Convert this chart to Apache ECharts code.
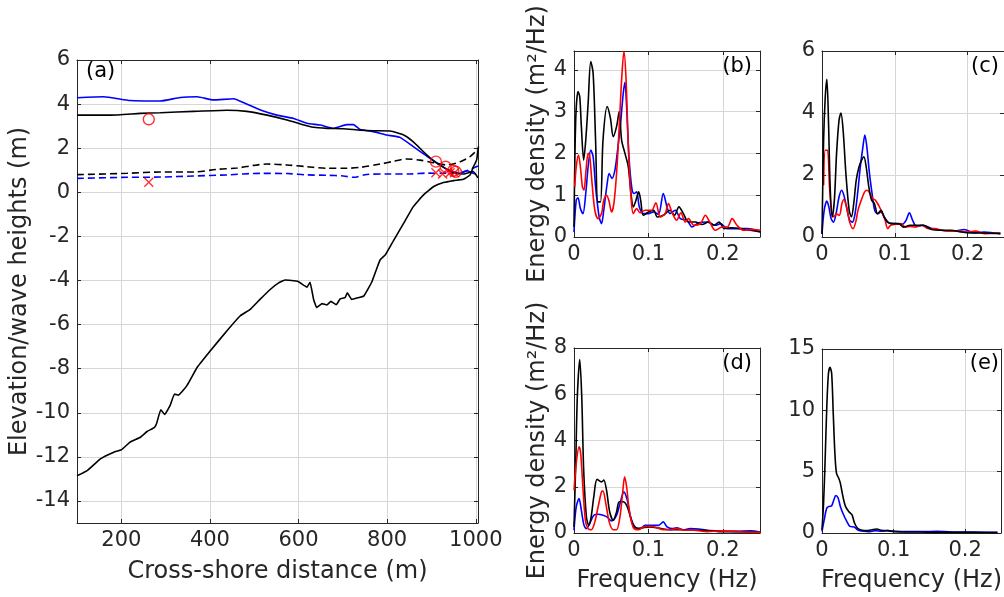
<!DOCTYPE html>
<html>
<head>
<meta charset="utf-8">
<script src="https://cdn.jsdelivr.net/npm/echarts@6/dist/echarts.min.js"></script>
<style>html,body{margin:0;padding:0;background:#fff}#c{width:1004px;height:597px}</style>
</head>
<body>
<div id="c"></div>
<script>
// ---------- Panel (a): cross-shore profile ----------
const xTicksA = [200, 400, 600, 800, 1000];
const yTicksA = [-14, -12, -10, -8, -6, -4, -2, 0, 2, 4, 6];
const hmaxBlue = [[100,4.29],[160,4.33],[220,4.16],[288,4.14],[333,4.30],[371,4.33],[408,4.19],[453,4.24],[483,4.0],[514,3.73],[551,3.5],[589,3.35],[619,3.13],[649,3.05],[679,2.9],[709,3.07],[724,3.07],[739,2.85],[769,2.75],[799,2.6],[829,2.49],[859,2.07],[889,1.65],[919,1.24],[942,0.98],[965,0.86],[980,0.98],[991,0.89],[1000,0.83]];
const hmaxBlack = [[100,3.5],[175,3.5],[243,3.58],[288,3.61],[363,3.67],[438,3.72],[483,3.67],[529,3.5],[574,3.28],[604,3.1],[634,2.95],[664,2.9],[701,2.88],[739,2.82],[769,2.79],[807,2.78],[837,2.6],[859,2.29],[882,1.84],[905,1.42],[927,1.13],[950,0.89],[972,0.83],[994,0.94],[1005,0.65]];
const hsBlack = [[100,0.8],[213,0.86],[288,0.92],[363,0.92],[416,1.04],[461,1.1],[499,1.22],[529,1.28],[574,1.24],[619,1.16],[664,1.09],[709,1.09],[739,1.13],[784,1.28],[814,1.4],[844,1.51],[874,1.46],[905,1.34],[935,1.24],[965,1.39],[987,1.62],[1005,1.95]];
const hsBlue = [[100,0.63],[213,0.68],[288,0.69],[363,0.74],[438,0.79],[514,0.86],[574,0.85],[619,0.79],[664,0.77],[701,0.74],[724,0.68],[754,0.81],[799,0.83],[852,0.83],[889,0.87],[927,0.86],[965,0.89],[1005,1.19]];
const bedLevel = [[100,-12.86],[123,-12.62],[153,-12.09],[183,-11.79],[200,-11.68],[220,-11.33],[243,-11.11],[258,-10.85],[275,-10.66],[280,-10.46],[289,-9.86],[298,-10.08],[310,-9.68],[320,-9.15],[329,-9.2],[348,-8.77],[371,-7.95],[401,-7.19],[438,-6.29],[468,-5.61],[491,-5.31],[513,-4.86],[536,-4.41],[555,-4.11],[570,-3.98],[598,-4.03],[619,-4.3],[626,-4.08],[634,-4.86],[641,-5.23],[653,-5.05],[664,-5.11],[673,-4.95],[685,-5.1],[694,-4.83],[705,-4.78],[710,-4.56],[720,-4.86],[735,-4.78],[747,-4.71],[765,-4.08],[777,-3.43],[784,-3.07],[796,-2.83],[814,-2.2],[837,-1.41],[859,-0.65],[882,-0.12],[905,0.26],[927,0.44],[950,0.53],[972,0.59],[987,0.78],[994,1.13],[1002,1.47],[1006,2.07]];
const obsHmax = [[262,3.31],[910,1.39],[932,1.16],[949,0.98],[955,0.93]];
const obsHs = [[262,0.45],[910,0.89],[925,0.83],[942,0.89],[952,0.89]];

// ---------- Spectra (b)-(e) ----------
const specB_black = [[0,0.24],[0.0023,2.8],[0.0054,3.48],[0.0077,3.36],[0.0099,2.64],[0.013,1.84],[0.0158,2.32],[0.019,3.2],[0.0225,4.2],[0.0257,3.92],[0.029,2.32],[0.032,0.84],[0.0356,0.84],[0.039,2.32],[0.0446,3.12],[0.049,2.84],[0.0527,2.4],[0.0572,2.64],[0.0608,3.0],[0.064,2.32],[0.0685,2.0],[0.073,1.68],[0.0766,1.04],[0.0797,0.72],[0.0833,0.88],[0.087,1.08],[0.0896,0.88],[0.0932,0.52],[0.1,0.6],[0.107,0.64],[0.112,0.48],[0.12,0.52],[0.129,0.64],[0.135,0.52],[0.141,0.72],[0.147,0.56],[0.154,0.36],[0.163,0.36],[0.172,0.3],[0.181,0.36],[0.188,0.28],[0.195,0.36],[0.202,0.2],[0.21,0.22],[0.224,0.2],[0.237,0.16],[0.251,0.12]];
const specB_blue = [[0,0.12],[0.003,0.88],[0.0054,0.94],[0.0086,0.68],[0.012,0.56],[0.0158,1.04],[0.019,1.68],[0.0225,2.08],[0.0257,1.92],[0.029,1.2],[0.0338,0.48],[0.037,0.32],[0.04,0.64],[0.0446,1.28],[0.0473,1.52],[0.051,1.4],[0.055,1.6],[0.0586,2.08],[0.0626,2.72],[0.0662,3.44],[0.0685,3.7],[0.0707,3.12],[0.0739,1.92],[0.0775,1.2],[0.0806,1.04],[0.0842,1.08],[0.0878,0.72],[0.0932,0.56],[0.1,0.56],[0.107,0.6],[0.1135,0.54],[0.12,1.04],[0.125,0.72],[0.129,0.56],[0.136,0.64],[0.143,0.44],[0.152,0.4],[0.1585,0.24],[0.1676,0.34],[0.179,0.36],[0.19,0.28],[0.197,0.32],[0.206,0.2],[0.219,0.2],[0.233,0.2],[0.251,0.12]];
const specB_red = [[0.001,1.2],[0.003,1.68],[0.006,1.96],[0.0086,1.68],[0.0113,1.2],[0.0135,1.12],[0.0158,1.52],[0.019,2.0],[0.021,1.96],[0.0243,1.28],[0.028,0.64],[0.0324,0.44],[0.037,0.56],[0.04,0.88],[0.0437,1.0],[0.0468,0.88],[0.0505,0.6],[0.0536,0.8],[0.0572,1.52],[0.0608,2.64],[0.064,3.76],[0.0671,4.44],[0.07,3.76],[0.073,2.16],[0.0766,0.96],[0.0797,0.56],[0.0842,0.68],[0.0887,0.58],[0.0955,0.64],[0.1045,0.64],[0.11,0.82],[0.116,0.48],[0.1225,0.56],[0.127,0.8],[0.1315,0.6],[0.138,0.4],[0.1437,0.58],[0.1495,0.36],[0.154,0.44],[0.161,0.28],[0.17,0.32],[0.1766,0.52],[0.1824,0.36],[0.19,0.16],[0.199,0.24],[0.206,0.24],[0.2126,0.44],[0.219,0.28],[0.228,0.16],[0.242,0.18],[0.251,0.16]];
const specC_black = [[0,0.1],[0.0022,3.12],[0.0045,4.53],[0.0067,5.09],[0.009,3.66],[0.0112,1.62],[0.014,0.65],[0.017,1.19],[0.02,2.69],[0.0234,3.77],[0.026,4.0],[0.029,3.45],[0.0328,2.05],[0.0373,0.86],[0.0404,0.65],[0.0436,1.08],[0.047,1.83],[0.0508,2.26],[0.0544,2.48],[0.0575,2.59],[0.0607,2.26],[0.0643,1.62],[0.068,1.19],[0.072,1.08],[0.0764,0.75],[0.081,0.86],[0.0854,0.65],[0.09,0.48],[0.0966,0.43],[0.1056,0.43],[0.112,0.32],[0.121,0.38],[0.13,0.38],[0.139,0.38],[0.1506,0.24],[0.164,0.22],[0.1775,0.22],[0.191,0.16],[0.2045,0.13],[0.2225,0.13],[0.245,0.11]];
const specC_blue = [[0,0.1],[0.003,0.86],[0.0067,1.16],[0.0094,0.97],[0.0126,0.59],[0.0157,0.48],[0.0193,0.75],[0.0234,1.29],[0.027,1.51],[0.03,1.35],[0.0337,0.97],[0.038,0.54],[0.0418,0.48],[0.0454,0.75],[0.0494,1.51],[0.0526,2.26],[0.0562,2.91],[0.0589,3.29],[0.0616,2.91],[0.0652,2.05],[0.0688,1.4],[0.0724,0.86],[0.0764,0.75],[0.081,0.81],[0.0854,0.65],[0.0921,0.45],[0.101,0.43],[0.11,0.41],[0.1155,0.54],[0.12,0.78],[0.1245,0.54],[0.13,0.34],[0.139,0.38],[0.1506,0.27],[0.164,0.22],[0.182,0.19],[0.1955,0.24],[0.209,0.13],[0.2225,0.16],[0.245,0.11]];
const specC_red = [[0.0022,1.67],[0.0045,2.8],[0.0076,2.8],[0.0103,1.62],[0.0135,0.75],[0.0166,0.65],[0.0193,0.75],[0.0238,0.7],[0.0274,1.08],[0.03,1.21],[0.0337,0.97],[0.038,0.48],[0.0427,0.27],[0.0463,0.48],[0.0494,0.86],[0.054,1.19],[0.0584,1.45],[0.062,1.51],[0.066,1.4],[0.0697,1.24],[0.0733,1.19],[0.0764,1.08],[0.08,0.92],[0.0831,0.75],[0.0867,0.54],[0.0903,0.27],[0.0944,0.38],[0.101,0.41],[0.109,0.43],[0.1146,0.32],[0.121,0.34],[0.128,0.32],[0.137,0.38],[0.146,0.27],[0.155,0.27],[0.164,0.22],[0.175,0.19],[0.1865,0.19],[0.2,0.16],[0.211,0.19],[0.2225,0.11],[0.245,0.13]];
const specD_black = [[0,0.26],[0.0023,3.0],[0.0045,5.9],[0.0077,7.5],[0.0104,5.9],[0.013,2.72],[0.0167,0.69],[0.0198,0.33],[0.023,0.69],[0.0266,1.56],[0.031,2.32],[0.037,2.21],[0.04,2.29],[0.0437,1.85],[0.048,0.91],[0.0527,0.55],[0.0572,0.91],[0.0608,1.35],[0.0662,1.35],[0.0707,1.2],[0.0752,0.77],[0.0797,0.33],[0.0865,0.19],[0.0932,0.23],[0.102,0.26],[0.111,0.23],[0.12,0.17],[0.129,0.14],[0.143,0.14],[0.156,0.12],[0.174,0.12],[0.197,0.06],[0.219,0.06],[0.251,0.03]];
const specD_blue = [[0,0.12],[0.003,1.13],[0.0068,1.49],[0.0099,0.98],[0.0135,0.33],[0.0167,0.19],[0.021,0.41],[0.0266,0.77],[0.0324,0.81],[0.039,0.77],[0.0446,0.69],[0.0505,0.52],[0.0572,0.77],[0.063,1.42],[0.067,1.78],[0.0716,1.42],[0.0761,0.69],[0.082,0.26],[0.0887,0.19],[0.0955,0.33],[0.1045,0.33],[0.1135,0.33],[0.12,0.48],[0.125,0.26],[0.1315,0.19],[0.138,0.22],[0.147,0.14],[0.156,0.19],[0.1676,0.17],[0.179,0.12],[0.197,0.09],[0.219,0.07],[0.237,0.09],[0.251,0.03]];
const specD_red = [[0,1.85],[0.003,3.0],[0.0068,3.73],[0.009,3.44],[0.0122,1.85],[0.0153,0.55],[0.0189,0.19],[0.0234,0.14],[0.028,0.48],[0.0324,1.13],[0.037,1.78],[0.039,1.81],[0.0428,1.27],[0.0473,0.48],[0.0527,0.14],[0.0572,0.14],[0.0617,0.69],[0.0653,1.71],[0.068,2.43],[0.0707,2.0],[0.0743,0.98],[0.0797,0.23],[0.0865,0.14],[0.0932,0.26],[0.102,0.29],[0.111,0.23],[0.12,0.14],[0.129,0.14],[0.138,0.19],[0.1495,0.12],[0.161,0.12],[0.179,0.06],[0.197,0.09],[0.215,0.07],[0.233,0.04],[0.251,0.03]];
const specE_black = [[0,0.27],[0.0022,2.44],[0.0045,6.2],[0.0067,10.3],[0.009,13.0],[0.0112,13.5],[0.0135,13.0],[0.0157,9.76],[0.018,6.5],[0.0202,4.88],[0.0234,4.47],[0.0256,4.07],[0.0292,2.98],[0.0328,2.17],[0.0373,1.76],[0.0418,1.49],[0.0454,0.81],[0.0494,0.41],[0.0562,0.22],[0.063,0.19],[0.0697,0.27],[0.0764,0.33],[0.0831,0.22],[0.0921,0.19],[0.101,0.11],[0.119,0.08],[0.137,0.08],[0.155,0.05],[0.182,0.05],[0.209,0.05],[0.245,0.03]];
const specE_blue = [[0,0.14],[0.0031,1.08],[0.0067,2.03],[0.0103,2.17],[0.0135,2.22],[0.0166,2.71],[0.0193,3.06],[0.0225,2.85],[0.0256,2.17],[0.0301,1.49],[0.0346,0.95],[0.039,0.54],[0.045,0.49],[0.0508,0.22],[0.0584,0.14],[0.0652,0.11],[0.0742,0.19],[0.0831,0.14],[0.0921,0.19],[0.101,0.14],[0.119,0.11],[0.1416,0.11],[0.16,0.14],[0.182,0.08],[0.209,0.08],[0.245,0.05]];

const panelLabels = ['(a)', '(b)', '(c)', '(d)', '(e)'];
const nameA_x = 'Cross-shore distance (m)';
const nameA_y = 'Elevation/wave heights (m)';
const nameSpecX = 'Frequency (Hz)';
const nameSpecY = 'Energy density (m²/Hz)';

// ---------- styling ----------
const FONT = 'DejaVu Sans';
const AX = '#262626';
const GRIDC = '#d6d6d6';
const BLUE = '#0000ff', RED = '#ff0000', BLACK = '#000000';
const LW = 1.6;

const chart = echarts.init(document.getElementById('c'), null, {renderer: 'canvas'});

const grids = [
  {left: 77, top: 60, width: 401, height: 463},
  {left: 574, top: 51, width: 186, height: 186},
  {left: 822, top: 51, width: 185, height: 186},
  {left: 574, top: 348, width: 186, height: 185},
  {left: 822, top: 349, width: 185, height: 184}
];

const plainFmt = v => String(Math.round(v * 1000) / 1000);

function baseAxis(extra) {
  return Object.assign({
    type: 'value',
    axisLine: {show: true, onZero: false, lineStyle: {color: AX, width: 1}},
    axisTick: {show: true, inside: true, length: 4, lineStyle: {color: AX, width: 1}},
    axisLabel: {show: true, color: AX, fontFamily: FONT, fontSize: 21, showMaxLabel: false, formatter: plainFmt},
    splitLine: {show: true, lineStyle: {color: GRIDC, width: 1}},
    nameTextStyle: {color: AX, fontFamily: FONT, fontSize: 24},
    nameLocation: 'middle'
  }, extra);
}

const specY = [
  {max: 4.45, interval: 1},
  {max: 6, interval: 2},
  {max: 8, interval: 2},
  {max: 15, interval: 5}
];

const xAxes = [], yAxes = [];
// bottom x axes
xAxes.push(baseAxis({gridIndex: 0, min: 100, max: 1005, position: 'bottom',
  axisTick: {show: true, inside: true, length: 4, lineStyle: {color: AX}, customValues: xTicksA},
  axisLabel: {color: AX, fontFamily: FONT, fontSize: 21, margin: 7, customValues: xTicksA, formatter: plainFmt},
  name: nameA_x, nameGap: 37}));
for (let i = 0; i < 4; i++) {
  const ax = baseAxis({gridIndex: i + 1, min: 0, max: 0.25, interval: 0.1, position: 'bottom'});
  ax.axisLabel.margin = 7;
  if (i >= 2) { ax.name = nameSpecX; ax.nameGap = 36; }
  xAxes.push(ax);
}
// top mirror x axes
for (let i = 0; i < 5; i++) {
  const src = xAxes[i];
  xAxes.push({type: 'value', gridIndex: i, position: 'top', min: src.min, max: src.max, interval: src.interval,
    axisLine: {show: true, onZero: false, lineStyle: {color: AX, width: 1}},
    axisTick: {show: true, inside: true, length: 4, lineStyle: {color: AX}, customValues: i === 0 ? xTicksA : undefined},
    axisLabel: {show: false}, splitLine: {show: false}});
}
// left y axes
yAxes.push(baseAxis({gridIndex: 0, min: -15, max: 6, position: 'left',
  axisTick: {show: true, inside: true, length: 4, lineStyle: {color: AX}, customValues: yTicksA},
  axisLabel: {color: AX, fontFamily: FONT, fontSize: 21, margin: 7, customValues: yTicksA, formatter: plainFmt},
  name: nameA_y, nameGap: 45}));
for (let i = 0; i < 4; i++) {
  const ax = baseAxis({gridIndex: i + 1, min: 0, max: specY[i].max, interval: specY[i].interval, position: 'left'});
  ax.axisLabel.margin = 7;
  ax.axisLabel.showMaxLabel = (specY[i].max % specY[i].interval === 0);
  if (i === 0 || i === 2) { ax.name = nameSpecY; ax.nameGap = 22; }
  yAxes.push(ax);
}
// right mirror y axes
for (let i = 0; i < 5; i++) {
  const src = yAxes[i];
  yAxes.push({type: 'value', gridIndex: i, position: 'right', min: src.min, max: src.max, interval: src.interval,
    axisLine: {show: true, onZero: false, lineStyle: {color: AX, width: 1}},
    axisTick: {show: true, inside: true, length: 4, lineStyle: {color: AX}, customValues: i === 0 ? yTicksA : undefined},
    axisLabel: {show: false}, splitLine: {show: false}});
}

function line(data, color, gi, dashed, smooth) {
  return {type: 'line', data: data, xAxisIndex: gi, yAxisIndex: gi, showSymbol: false, symbol: 'none',
    smooth: smooth || false, lineStyle: {color: color, width: LW, type: dashed ? [7, 4] : 'solid'},
    itemStyle: {color: color}, silent: true, animation: false, z: 3};
}

const series = [
  line(hsBlack, BLACK, 0, true, 0.3),
  line(hsBlue, BLUE, 0, true, 0.3),
  line(hmaxBlue, BLUE, 0, false, 0.15),
  line(hmaxBlack, BLACK, 0, false, 0.15),
  line(bedLevel, BLACK, 0, false, 0.1),
  {type: 'scatter', data: obsHmax, xAxisIndex: 0, yAxisIndex: 0, symbol: 'circle', symbolSize: 11,
   itemStyle: {color: 'rgba(0,0,0,0)', borderColor: RED, borderWidth: 1.4}, animation: false, z: 5},
  {type: 'scatter', data: obsHs, xAxisIndex: 0, yAxisIndex: 0, symbol: 'path://M0,0L10,10M10,0L0,10', symbolSize: 9,
   itemStyle: {color: 'rgba(0,0,0,0)', borderColor: RED, borderWidth: 1.4}, animation: false, z: 5},
  line(specB_blue, BLUE, 1, false, 0.3),
  line(specB_black, BLACK, 1, false, 0.3),
  line(specB_red, RED, 1, false, 0.3),
  line(specC_blue, BLUE, 2, false, 0.3),
  line(specC_red, RED, 2, false, 0.3),
  line(specC_black, BLACK, 2, false, 0.3),
  line(specD_blue, BLUE, 3, false, 0.3),
  line(specD_black, BLACK, 3, false, 0.3),
  line(specD_red, RED, 3, false, 0.3),
  line(specE_blue, BLUE, 4, false, 0.3),
  line(specE_black, BLACK, 4, false, 0.3)
];

const labelPos = [
  {x: 86, y: 72, align: 'left'},
  {x: 752, y: 67, align: 'right'},
  {x: 999, y: 67, align: 'right'},
  {x: 752, y: 364, align: 'right'},
  {x: 999, y: 364, align: 'right'}
];
const graphics = panelLabels.map((t, i) => ({
  type: 'text', x: labelPos[i].x, y: labelPos[i].y, z: 10,
  style: {text: t, font: '21px "' + FONT + '"', fill: '#000', align: labelPos[i].align, verticalAlign: 'middle'}
}));

chart.setOption({
  animation: false,
  backgroundColor: '#fff',
  grid: grids,
  xAxis: xAxes,
  yAxis: yAxes,
  series: series,
  graphic: graphics
});
</script>
</body>
</html>
